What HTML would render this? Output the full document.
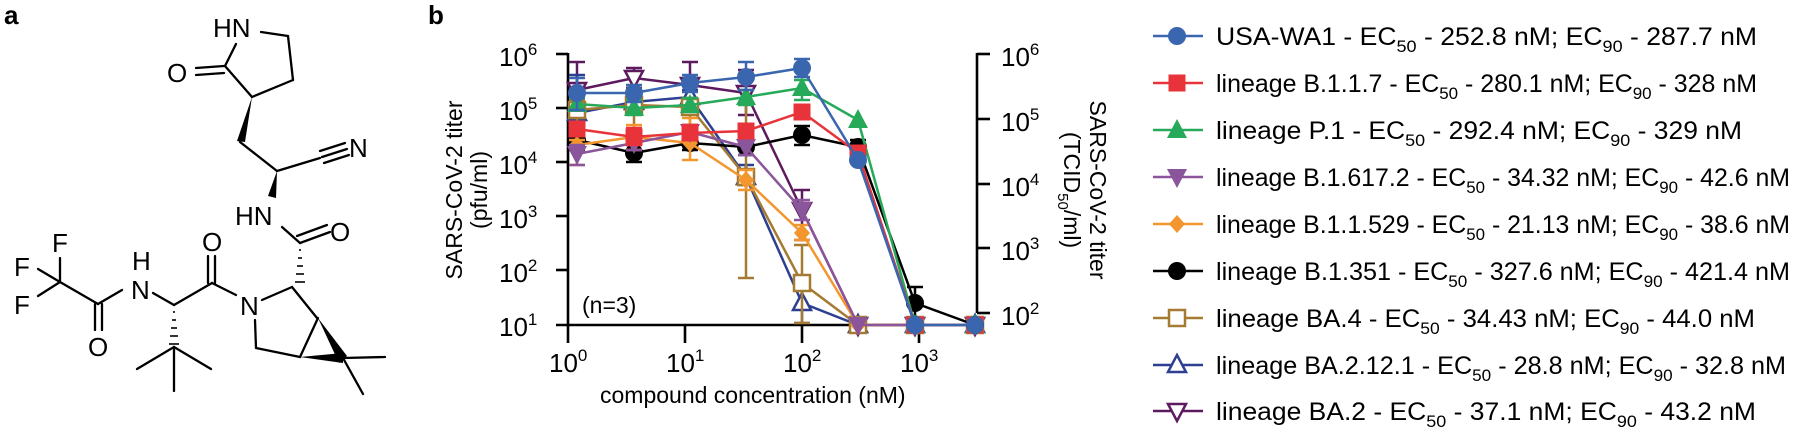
<!DOCTYPE html>
<html><head><meta charset="utf-8">
<style>
html,body{margin:0;padding:0;background:#fff;}
svg{display:block;font-family:"Liberation Sans",Arial,sans-serif;}
</style></head>
<body>
<svg id="s" width="1800" height="436" viewBox="0 0 1800 436" xmlns="http://www.w3.org/2000/svg">
<!-- panel a -->
<text x="4" y="24" font-size="26" font-weight="bold">a</text>
<g stroke="#000" stroke-width="2.3" fill="none" stroke-linecap="round">
  <line x1="261" y1="32" x2="288" y2="36"/>
  <line x1="288" y1="36" x2="293" y2="80"/>
  <line x1="293" y1="80" x2="252" y2="97"/>
  <line x1="252" y1="97" x2="225" y2="66"/>
  <line x1="225" y1="66" x2="236" y2="44"/>
  <line x1="224" y1="66" x2="196" y2="68"/>
  <line x1="224" y1="73" x2="196" y2="75"/>
  <line x1="240" y1="142" x2="277" y2="171"/>
  <line x1="277" y1="171" x2="320" y2="158"/>
  <line x1="320" y1="151" x2="345" y2="143"/>
  <line x1="322" y1="157" x2="347" y2="149"/>
  <line x1="324" y1="163" x2="349" y2="155"/>
  <line x1="282" y1="227" x2="300" y2="243"/>
  <line x1="300" y1="243" x2="330" y2="232"/>
  <line x1="297" y1="236" x2="327" y2="225"/>
  <line x1="292" y1="287" x2="317" y2="318"/>
  <line x1="292" y1="287" x2="262" y2="300"/>
  <line x1="255" y1="320" x2="256" y2="348"/>
  <line x1="256" y1="348" x2="300" y2="357"/>
  <line x1="300" y1="357" x2="318" y2="318"/>
  <line x1="343" y1="358" x2="385" y2="357"/>
  <line x1="343" y1="358" x2="363" y2="394"/>
  <line x1="236" y1="295" x2="212" y2="283"/>
  <line x1="212" y1="283" x2="174" y2="305"/>
  <line x1="208" y1="283" x2="208" y2="256"/>
  <line x1="215" y1="283" x2="215" y2="256"/>
  <line x1="174" y1="347" x2="137" y2="369"/>
  <line x1="174" y1="347" x2="211" y2="369"/>
  <line x1="174" y1="347" x2="174" y2="391"/>
  <line x1="174" y1="305" x2="153" y2="293"/>
  <line x1="122" y1="290" x2="98" y2="304"/>
  <line x1="95" y1="304" x2="95" y2="330"/>
  <line x1="102" y1="304" x2="102" y2="330"/>
  <line x1="98" y1="304" x2="60" y2="282"/>
  <line x1="60" y1="282" x2="60" y2="258"/>
  <line x1="60" y1="282" x2="38" y2="269"/>
  <line x1="60" y1="282" x2="38" y2="296"/>
</g>
<polygon points="252,97 237,141 245,142" fill="#000"/>
<polygon points="277,171 268,196 276,198" fill="#000"/>
<polygon points="300,357 343,353 343,363" fill="#000"/>
<polygon points="318,318 339,363 347,356" fill="#000"/>
<g stroke="#000" stroke-width="1.6">
  <line x1="299" y1="250" x2="301" y2="250"/><line x1="298" y1="258" x2="302" y2="258"/>
  <line x1="297" y1="266" x2="303" y2="266"/><line x1="296" y1="274" x2="304" y2="274"/>
  <line x1="295" y1="282" x2="305" y2="282"/>
  <line x1="173" y1="312" x2="175" y2="312"/><line x1="172" y1="320" x2="176" y2="320"/>
  <line x1="171" y1="328" x2="177" y2="328"/><line x1="170" y1="336" x2="178" y2="336"/>
  <line x1="169" y1="344" x2="179" y2="344"/>
</g>
<g font-size="26" fill="#000">
  <text x="213" y="37">HN</text>
  <text x="167" y="82">O</text>
  <text x="349" y="157">N</text>
  <text x="235" y="225">HN</text>
  <text x="330" y="241">O</text>
  <text x="202" y="251">O</text>
  <text x="240" y="315">N</text>
  <text x="132" y="270">H</text>
  <text x="131" y="299">N</text>
  <text x="88" y="356">O</text>
  <text x="52" y="252">F</text>
  <text x="14" y="276">F</text>
  <text x="14" y="314">F</text>
</g>

<!-- panel b -->
<text x="428" y="24" font-size="26" font-weight="bold">b</text>
<g id="axes" stroke="#000" stroke-width="2.6" fill="none">
  <line x1="568" y1="53" x2="568" y2="343"/>
  <line x1="556" y1="325" x2="977" y2="325"/>
  <line x1="556" y1="54" x2="568" y2="54"/>
  <line x1="556" y1="108" x2="568" y2="108"/>
  <line x1="556" y1="162" x2="568" y2="162"/>
  <line x1="556" y1="216" x2="568" y2="216"/>
  <line x1="556" y1="270" x2="568" y2="270"/>
  <line x1="685" y1="325" x2="685" y2="343"/>
  <line x1="802" y1="325" x2="802" y2="343"/>
  <line x1="919" y1="325" x2="919" y2="343"/>
  <line x1="977" y1="53" x2="977" y2="313"/>
  <line x1="977" y1="54" x2="990" y2="54"/>
  <line x1="977" y1="119" x2="990" y2="119"/>
  <line x1="977" y1="184" x2="990" y2="184"/>
  <line x1="977" y1="248" x2="990" y2="248"/>
  <line x1="977" y1="313" x2="990" y2="313"/>
</g>
<g font-size="26" fill="#000">
  <text x="499" y="66">10<tspan font-size="17" dy="-11">6</tspan></text>
  <text x="499" y="120">10<tspan font-size="17" dy="-11">5</tspan></text>
  <text x="499" y="174">10<tspan font-size="17" dy="-11">4</tspan></text>
  <text x="499" y="228">10<tspan font-size="17" dy="-11">3</tspan></text>
  <text x="499" y="282">10<tspan font-size="17" dy="-11">2</tspan></text>
  <text x="499" y="336">10<tspan font-size="17" dy="-11">1</tspan></text>
  <text x="549" y="372">10<tspan font-size="17" dy="-11">0</tspan></text>
  <text x="666" y="372">10<tspan font-size="17" dy="-11">1</tspan></text>
  <text x="783" y="372">10<tspan font-size="17" dy="-11">2</tspan></text>
  <text x="900" y="372">10<tspan font-size="17" dy="-11">3</tspan></text>
  <text x="1001" y="66">10<tspan font-size="17" dy="-11">6</tspan></text>
  <text x="1001" y="131">10<tspan font-size="17" dy="-11">5</tspan></text>
  <text x="1001" y="196">10<tspan font-size="17" dy="-11">4</tspan></text>
  <text x="1001" y="260">10<tspan font-size="17" dy="-11">3</tspan></text>
  <text x="1001" y="325">10<tspan font-size="17" dy="-11">2</tspan></text>
</g>
<g font-size="23" fill="#000">
  <text x="600" y="403">compound concentration (nM)</text>
  <text x="582" y="313">(n=3)</text>
  <text transform="translate(462,190) rotate(-90)" text-anchor="middle">SARS-CoV-2 titer</text>
  <text transform="translate(487,190) rotate(-90)" text-anchor="middle">(pfu/ml)</text>
  <text transform="translate(1090,190) rotate(90)" text-anchor="middle">SARS-CoV-2 titer</text>
  <text transform="translate(1064,190) rotate(90)" text-anchor="middle">(TCID<tspan font-size="15" dy="6">50</tspan><tspan dy="-6">/ml)</tspan></text>
</g>
<g id="series"></g>
<g id="legend"></g>
<g font-size="25" fill="#000">
  <text x="1216" y="45" textLength="541" lengthAdjust="spacingAndGlyphs">USA-WA1 - EC<tspan font-size="17" dy="7">50</tspan><tspan dy="-7"> - 252.8 nM; EC</tspan><tspan font-size="17" dy="7">90</tspan><tspan dy="-7"> - 287.7 nM</tspan></text>
  <text x="1216" y="92" textLength="541" lengthAdjust="spacingAndGlyphs">lineage B.1.1.7 - EC<tspan font-size="17" dy="7">50</tspan><tspan dy="-7"> - 280.1 nM; EC</tspan><tspan font-size="17" dy="7">90</tspan><tspan dy="-7"> - 328 nM</tspan></text>
  <text x="1216" y="139" textLength="526" lengthAdjust="spacingAndGlyphs">lineage P.1 - EC<tspan font-size="17" dy="7">50</tspan><tspan dy="-7"> - 292.4 nM; EC</tspan><tspan font-size="17" dy="7">90</tspan><tspan dy="-7"> - 329 nM</tspan></text>
  <text x="1216" y="186" textLength="574" lengthAdjust="spacingAndGlyphs">lineage B.1.617.2 - EC<tspan font-size="17" dy="7">50</tspan><tspan dy="-7"> - 34.32 nM; EC</tspan><tspan font-size="17" dy="7">90</tspan><tspan dy="-7"> - 42.6 nM</tspan></text>
  <text x="1216" y="233" textLength="574" lengthAdjust="spacingAndGlyphs">lineage B.1.1.529 - EC<tspan font-size="17" dy="7">50</tspan><tspan dy="-7"> - 21.13 nM; EC</tspan><tspan font-size="17" dy="7">90</tspan><tspan dy="-7"> - 38.6 nM</tspan></text>
  <text x="1216" y="280" textLength="574" lengthAdjust="spacingAndGlyphs">lineage B.1.351 - EC<tspan font-size="17" dy="7">50</tspan><tspan dy="-7"> - 327.6 nM; EC</tspan><tspan font-size="17" dy="7">90</tspan><tspan dy="-7"> - 421.4 nM</tspan></text>
  <text x="1216" y="327" textLength="539" lengthAdjust="spacingAndGlyphs">lineage BA.4 - EC<tspan font-size="17" dy="7">50</tspan><tspan dy="-7"> - 34.43 nM; EC</tspan><tspan font-size="17" dy="7">90</tspan><tspan dy="-7"> - 44.0 nM</tspan></text>
  <text x="1216" y="374" textLength="570" lengthAdjust="spacingAndGlyphs">lineage BA.2.12.1 - EC<tspan font-size="17" dy="7">50</tspan><tspan dy="-7"> - 28.8 nM; EC</tspan><tspan font-size="17" dy="7">90</tspan><tspan dy="-7"> - 32.8 nM</tspan></text>
  <text x="1216" y="420" textLength="540" lengthAdjust="spacingAndGlyphs">lineage BA.2 - EC<tspan font-size="17" dy="7">50</tspan><tspan dy="-7"> - 37.1 nM; EC</tspan><tspan font-size="17" dy="7">90</tspan><tspan dy="-7"> - 43.2 nM</tspan></text>
</g>
<script>
(function(){
var NS="http://www.w3.org/2000/svg";
var X=[577,634,690,746,802,858,915,975];
var S=[
 {c:"#5e1a5e",m:"vo",y:[90,78,85,93,210,325],e:[[62,120],[68,88],[62,105],[70,115],[190,240]]},
 {c:"#2d3f91",m:"^o",y:[113,102,97,177,303,325],e:[[75,130],[95,110],[90,105],[165,185],[290,323]]},
 {c:"#a57a32",m:"so",y:[110,105,107,177,283,325],e:[[100,125],[95,130],[98,125],[75,278],[245,323]]},
 {c:"#000000",m:"c",y:[140,153,143,147,135,147,303,325],e:[[130,150],[145,162],[135,150],[140,155],[126,145],[140,152],[287,318]]},
 {c:"#f4962e",m:"d",y:[145,137,143,180,233,325],e:[[140,165],[125,150],[118,160],[170,190],[225,240]]},
 {c:"#8b559b",m:"v",y:[154,143,132,147,210,325,325],e:[[145,165],[135,150],[125,140],[140,155],[200,220]]},
 {c:"#27a95a",m:"^",y:[104,108,105,97,88,120,325,325],e:[[98,110],[100,115],[98,112],[90,105],[80,100]]},
 {c:"#e8333a",m:"s",y:[129,137,133,131,112,153,325,325],e:[[124,135],[128,145],[125,140],[126,137],[106,118]]},
 {c:"#3a66b0",m:"c",y:[93,93,83,77,68,160,325,325],e:[[78,110],[85,102],[75,92],[62,90],[59,77]]}
];
var g=document.getElementById("series");
function el(t,a,p){var e=document.createElementNS(NS,t);for(var k in a)e.setAttribute(k,a[k]);(p||g).appendChild(e);return e;}
function marker(m,x,y,c,p){
  var r=9;
  if(m=="c")el("circle",{cx:x,cy:y,r:r,fill:c},p);
  else if(m=="s")el("rect",{x:x-8.5,y:y-8.5,width:17,height:17,fill:c},p);
  else if(m=="so")el("rect",{x:x-8,y:y-8,width:16,height:16,fill:"#fff",stroke:c,"stroke-width":2.5},p);
  else if(m=="^")el("polygon",{points:(x-10)+","+(y+8)+" "+(x+10)+","+(y+8)+" "+x+","+(y-11),fill:c},p);
  else if(m=="^o")el("polygon",{points:(x-9)+","+(y+7)+" "+(x+9)+","+(y+7)+" "+x+","+(y-10),fill:"#fff",stroke:c,"stroke-width":2.5},p);
  else if(m=="v")el("polygon",{points:(x-10)+","+(y-8)+" "+(x+10)+","+(y-8)+" "+x+","+(y+11),fill:c},p);
  else if(m=="vo")el("polygon",{points:(x-9)+","+(y-7)+" "+(x+9)+","+(y-7)+" "+x+","+(y+10),fill:"#fff",stroke:c,"stroke-width":2.5},p);
  else if(m=="d")el("polygon",{points:x+","+(y-9)+" "+(x+8)+","+y+" "+x+","+(y+9)+" "+(x-8)+","+y,fill:c},p);
}
S.forEach(function(s){
  s.e.forEach(function(e,i){var x=X[i];
    el("line",{x1:x,y1:e[0],x2:x,y2:e[1],stroke:s.c,"stroke-width":2.5});
    el("line",{x1:x-8,y1:e[0],x2:x+8,y2:e[0],stroke:s.c,"stroke-width":2.5});
    el("line",{x1:x-8,y1:e[1],x2:x+8,y2:e[1],stroke:s.c,"stroke-width":2.5});
  });
  var full=s.y.slice(); while(full.length<8)full.push(325);
  el("polyline",{points:full.map(function(v,i){return X[i]+","+v;}).join(" "),fill:"none",stroke:s.c,"stroke-width":2.5});
  full.forEach(function(v,i){marker(s.m,X[i],v,s.c);});
});
var L=[["#3a66b0","c"],["#e8333a","s"],["#27a95a","^"],["#8b559b","v"],["#f4962e","d"],["#000000","c"],["#a57a32","so"],["#2d3f91","^o"],["#5e1a5e","vo"]];
var lg=document.getElementById("legend");
var ry=[36,83,130,177,224,271,318,365,411];
L.forEach(function(l,i){
  el("line",{x1:1153,y1:ry[i],x2:1203,y2:ry[i],stroke:l[0],"stroke-width":2.5},lg);
  marker(l[1],1177,ry[i],l[0],lg);
});
})();
</script>
</svg>
</body></html>
